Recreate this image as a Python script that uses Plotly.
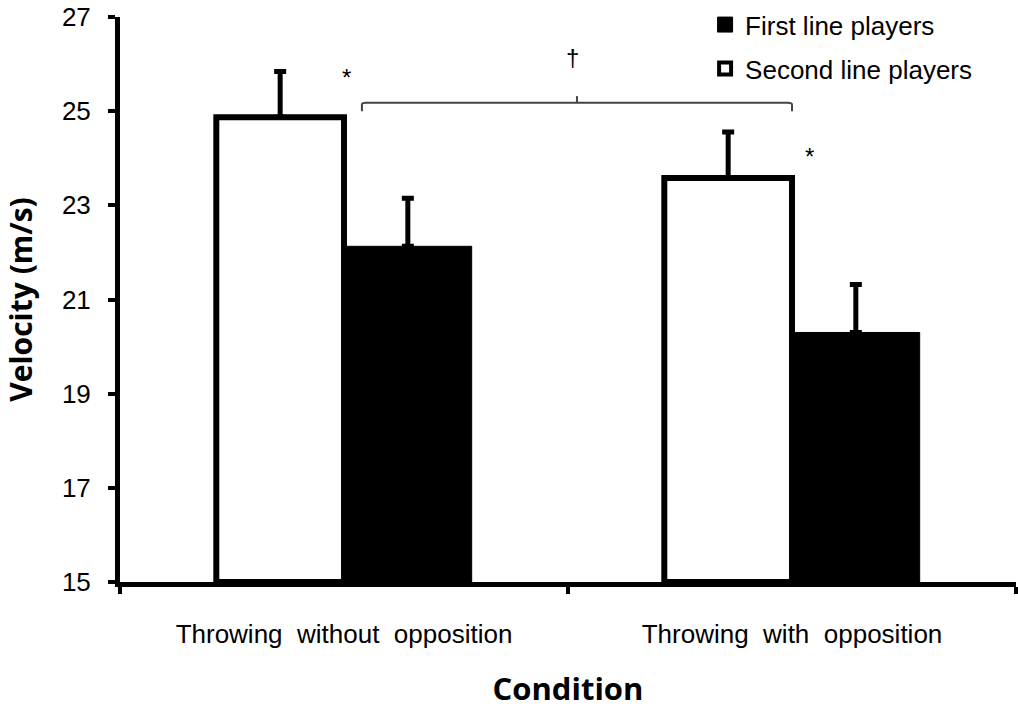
import plotly.graph_objects as go

categories = ["Throwing  without  opposition", "Throwing  with  opposition"]
second_line = [24.87, 23.58]
second_err = [0.97, 0.98]
first_line = [22.13, 20.30]
first_err = [1.02, 1.02]
y_ticks = [15, 17, 19, 21, 23, 25, 27]

FONT = "Liberation Sans, Arial, sans-serif"
TFONT = "Open Sans, Liberation Sans, sans-serif"

fig = go.Figure()
fig.add_trace(go.Bar(
    x=categories, y=[v - 15 for v in second_line], base=15,
    marker=dict(color="white", line=dict(color="black", width=6)),
    error_y=dict(type="data", symmetric=False, array=second_err, arrayminus=[0, 0],
                 color="black", thickness=5, width=6),
    showlegend=False, name="Second line players"))
fig.add_trace(go.Bar(
    x=categories, y=[v - 15 for v in first_line], base=15,
    marker=dict(color="black", line=dict(color="black", width=1)),
    error_y=dict(type="data", symmetric=False, array=first_err, arrayminus=[0, 0],
                 color="black", thickness=5, width=6),
    showlegend=False, name="First line players"))

# legend entries
fig.add_trace(go.Scatter(x=[None], y=[None], mode="markers", name="First line players",
                         legendgroup="a",
                         marker=dict(symbol="square", size=15, color="black",
                                     line=dict(color="black", width=1))))
fig.add_trace(go.Scatter(x=[None], y=[None], mode="markers", name="Second line players",
                         legendgroup="b",
                         marker=dict(symbol="square", size=12, color="white",
                                     line=dict(color="black", width=4))))

# bracket
fig.add_shape(type="path", xref="x", yref="y",
              path="M 0.04 25.0 L 0.04 25.14 Q 0.04 25.18 0.05 25.18 L 0.99 25.18 Q 1.0 25.18 1.0 25.14 L 1.0 25.0",
              line=dict(color="#444", width=2))
fig.add_shape(type="line", xref="x", yref="y", x0=0.52, x1=0.52, y0=25.18, y1=25.32,
              line=dict(color="#444", width=2))

annots = [
    dict(x=0.005, y=25.72, text="*"),
    dict(x=1.04, y=24.04, text="*"),
    dict(x=0.51, y=26.13, text="†"),
]
for a in annots:
    fig.add_annotation(x=a["x"], y=a["y"], xref="x", yref="y", text=a["text"],
                       showarrow=False, font=dict(family=FONT, size=24, color="black"))

fig.update_layout(
    width=1018, height=709,
    margin=dict(l=120, r=2, t=17, b=127, autoexpand=False),
    plot_bgcolor="white", paper_bgcolor="white",
    barmode="group", bargap=0.43, bargroupgap=0,
    font=dict(family=FONT, color="black"),
    legend=dict(x=0.653, y=1.028, xanchor="left", yanchor="top",
                font=dict(family=FONT, size=26, color="black"),
                tracegroupgap=7, bgcolor="rgba(0,0,0,0)", itemwidth=30),
)
fig.update_xaxes(
    showline=True, linecolor="black", linewidth=5,
    ticks="outside", tickson="boundaries", ticklen=7, tickwidth=4, tickcolor="black",
    tickfont=dict(family=FONT, size=26, color="black"), ticklabelstandoff=25,
    title=dict(text="<b>Condition</b>", font=dict(family=TFONT, size=31, color="black"), standoff=44),
    showgrid=False, zeroline=False,
)
fig.update_yaxes(
    range=[15, 27], tickvals=y_ticks, ticktext=[str(t) for t in y_ticks],
    showline=True, linecolor="black", linewidth=5,
    ticks="outside", ticklen=7, tickwidth=4, tickcolor="black", ticklabeloverflow="allow",
    tickfont=dict(family=FONT, size=26, color="black"), ticklabelstandoff=12,
    title=dict(text="<b>Velocity (m/s)</b>", font=dict(family=TFONT, size=30, color="black"), standoff=24),
    showgrid=False, zeroline=False,
)

fig.write_html("out.html", post_script="document.body.style.margin='0';",
               config={"displayModeBar": False})
